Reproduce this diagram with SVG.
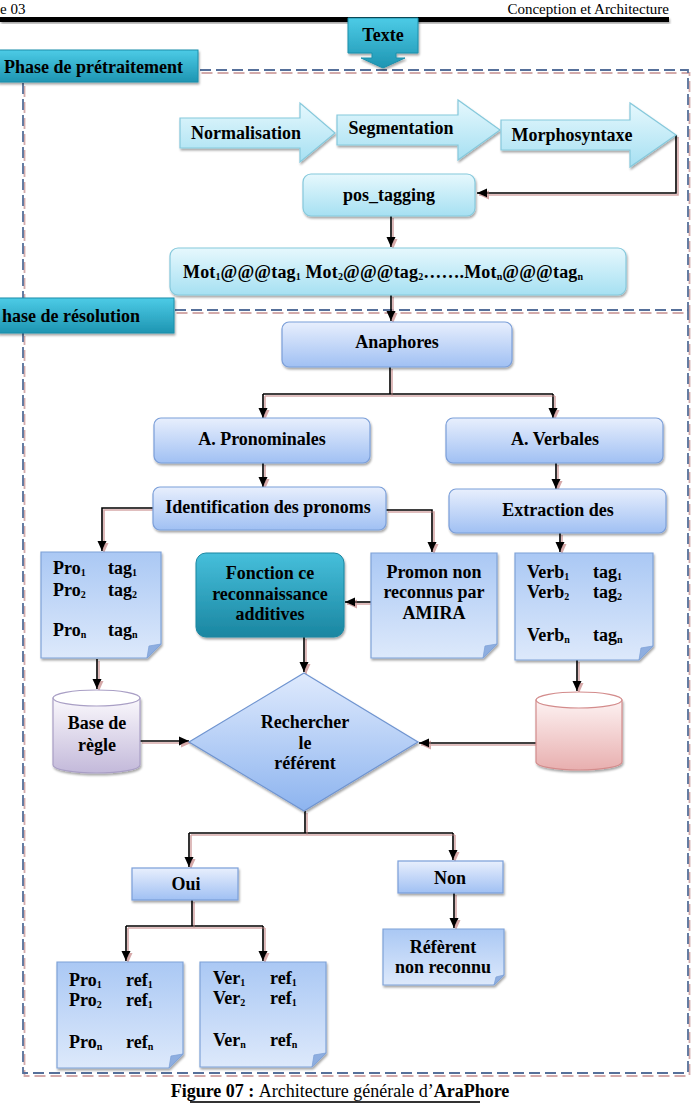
<svg xmlns="http://www.w3.org/2000/svg" xmlns:xlink="http://www.w3.org/1999/xlink" width="691" height="1103" viewBox="0 0 691 1103">
<style>
.t{font-family:"Liberation Serif","Times New Roman",serif;font-weight:bold;font-size:18px;fill:#000;text-anchor:middle}
.l{text-anchor:start}
.r{font-weight:normal}
.sub{font-size:10px}
.conn path{fill:none;stroke:#000;stroke-width:1.6}
.frame{fill:none;stroke:#56709a;stroke-width:1.8;stroke-dasharray:11 5}
.cyanbox{fill:url(#gCyan);stroke:#86c9dc;stroke-width:1.2}
.bluebox{fill:url(#gBlue);stroke:#7b9fd9;stroke-width:1.2}
.doc{fill:url(#gDoc);stroke:#7fa2d8;stroke-width:1.2}
.fold{fill:#8eaee0;stroke:#7fa2d8;stroke-width:0.8}
.teal{fill:url(#gTeal);stroke:#1d8eaa;stroke-width:1}
</style>
<defs>
<linearGradient id="gTeal" x1="0" y1="0" x2="0" y2="1"><stop offset="0" stop-color="#4ccbe6"/><stop offset="1" stop-color="#1e95b2"/></linearGradient>
<linearGradient id="gFonc" x1="0" y1="0" x2="0" y2="1"><stop offset="0" stop-color="#46bfdb"/><stop offset="1" stop-color="#1a86a1"/></linearGradient>
<linearGradient id="gCyan" x1="0" y1="0" x2="0" y2="1"><stop offset="0" stop-color="#e6f8fd"/><stop offset="1" stop-color="#a6e0f2"/></linearGradient>
<linearGradient id="gBlue" x1="0" y1="0" x2="0" y2="1"><stop offset="0" stop-color="#e8effd"/><stop offset="1" stop-color="#a0c0f3"/></linearGradient>
<linearGradient id="gDoc" x1="0" y1="0" x2="0" y2="1"><stop offset="0" stop-color="#aac8f4"/><stop offset="1" stop-color="#dde9fb"/></linearGradient>
<linearGradient id="gDia" x1="0" y1="0" x2="0" y2="1"><stop offset="0" stop-color="#dfeafd"/><stop offset="1" stop-color="#8db4ef"/></linearGradient>
<linearGradient id="gCylL" x1="0" y1="0" x2="0" y2="1"><stop offset="0" stop-color="#faf8fc"/><stop offset="1" stop-color="#c3b9da"/></linearGradient>
<linearGradient id="gCylR" x1="0" y1="0" x2="0" y2="1"><stop offset="0" stop-color="#fdf2f2"/><stop offset="1" stop-color="#e8afaf"/></linearGradient>
<filter id="sh" x="-10%" y="-10%" width="130%" height="140%"><feDropShadow dx="1" dy="2" stdDeviation="1.2" flood-color="#000" flood-opacity="0.35"/></filter>
<filter id="lsh" x="-5%" y="-5%" width="110%" height="110%"><feOffset in="SourceAlpha" dx="1.5" dy="1.5" result="o"/><feFlood flood-color="#d6a9a9"/><feComposite in2="o" operator="in" result="s"/><feMerge><feMergeNode in="s"/><feMergeNode in="SourceGraphic"/></feMerge></filter>
<marker id="ah" markerUnits="userSpaceOnUse" markerWidth="10" markerHeight="10" refX="10" refY="5" orient="auto"><path d="M0,0.5 L10,5 L0,9.5 Z" fill="#000"/></marker>
</defs>

<!-- header -->
<g id="header">
<text class="t r l" x="0" y="14" style="font-size:15px">e 03</text>
<text class="t r" x="669" y="14" style="font-size:15px;text-anchor:end">Conception et Architecture</text>
<rect x="0" y="17" width="669" height="5" fill="#000" filter="url(#sh)"/>
</g>

<!-- dashed frames -->
<g id="frames">
<g transform="translate(1.5,3)">
<path class="frame" style="stroke:#d3aaaa" d="M200,70 H688 V310 M23,83 V300 M175,310 H688 V1073 H23 V333"/>
</g>
<path class="frame" d="M200,70 H688 V310 M23,83 V300 M175,310 H688 V1073 H23 V333"/>
</g>

<g id="label-pre">
<rect class="teal" x="-2" y="50" width="200" height="32" filter="url(#sh)"/>
<text class="t l" x="4" y="73">Phase de prétraitement</text>
</g>
<g id="label-res">
<rect class="teal" x="-2" y="298" width="176" height="35" filter="url(#sh)"/>
<text class="t l" x="2" y="322">hase de résolution</text>
</g>

<g id="texte">
<path class="teal" d="M348,18 H418 V53 H396 V58 H405 L383,68 L361,58 H372 V53 H348 Z" filter="url(#sh)"/>
<text class="t" x="383" y="41">Texte</text>
</g>

<!-- connectors -->
<g id="connectors" class="conn" filter="url(#lsh)">
<path d="M676,135 V193 H477" marker-end="url(#ah)"/>
<path d="M391,216 V247" marker-end="url(#ah)"/>
<path d="M391,295 V321" marker-end="url(#ah)"/>
<path d="M390,367 V394"/>
<path d="M263,394 H553"/>
<path d="M263,394 V418" marker-end="url(#ah)"/>
<path d="M553,394 V418" marker-end="url(#ah)"/>
<path d="M263,463 V487" marker-end="url(#ah)"/>
<path d="M556,463 V489" marker-end="url(#ah)"/>
<path d="M153,508 H102 V551" marker-end="url(#ah)"/>
<path d="M386,510 H432 V552" marker-end="url(#ah)"/>
<path d="M560,533 V552" marker-end="url(#ah)"/>
<path d="M371,602 H345" marker-end="url(#ah)"/>
<path d="M97,659 V689" marker-end="url(#ah)"/>
<path d="M304,637 V672" marker-end="url(#ah)"/>
<path d="M577,660 V691" marker-end="url(#ah)"/>
<path d="M140,741 H189" marker-end="url(#ah)"/>
<path d="M536,743 H419" marker-end="url(#ah)"/>
<path d="M305,811 V833"/>
<path d="M189,833 H453"/>
<path d="M189,833 V867" marker-end="url(#ah)"/>
<path d="M453,833 V860" marker-end="url(#ah)"/>
<path d="M192,900 V926"/>
<path d="M126,926 H263"/>
<path d="M126,926 V961" marker-end="url(#ah)"/>
<path d="M263,926 V961" marker-end="url(#ah)"/>
<path d="M454,893 V928" marker-end="url(#ah)"/>
</g>

<!-- preprocessing -->
<g id="normalisation">
<path class="cyanbox" d="M180,118 H300 V103 L335,133 L300,162 V148 H180 Z" filter="url(#sh)"/>
<text class="t" x="246" y="139">Normalisation</text>
</g>
<g id="segmentation">
<path class="cyanbox" d="M337,115 H458 V100 L500,130 L458,160 V145 H337 Z" filter="url(#sh)"/>
<text class="t" x="401" y="134">Segmentation</text>
</g>
<g id="morphosyntaxe">
<path class="cyanbox" d="M501,120 H630 V103 L676,135 L630,167 V150 H501 Z" filter="url(#sh)"/>
<text class="t" x="572" y="141">Morphosyntaxe</text>
</g>
<g id="pos_tagging">
<rect class="cyanbox" x="303" y="174" width="172" height="42" rx="8" filter="url(#sh)"/>
<text class="t" x="389" y="201">pos_tagging</text>
</g>
<g id="mot">
<rect class="cyanbox" x="170" y="248" width="456" height="47" rx="8" filter="url(#sh)"/>
<text class="t l" x="183" y="278" textLength="400" lengthAdjust="spacing">Mot<tspan class="sub" dy="2">1</tspan><tspan dy="-2">@@@tag</tspan><tspan class="sub" dy="2">1</tspan><tspan dy="-2"> Mot</tspan><tspan class="sub" dy="2">2</tspan><tspan dy="-2">@@@tag</tspan><tspan class="sub" dy="2">2</tspan><tspan dy="-2">…….Mot</tspan><tspan class="sub" dy="2">n</tspan><tspan dy="-2">@@@tag</tspan><tspan class="sub" dy="2">n</tspan></text>
</g>

<!-- resolution -->
<g id="anaphores">
<rect class="bluebox" x="282" y="322" width="230" height="45" rx="7" filter="url(#sh)"/>
<text class="t" x="397" y="348">Anaphores</text>
</g>
<g id="a-pronominales">
<rect class="bluebox" x="154" y="418" width="216" height="45" rx="7" filter="url(#sh)"/>
<text class="t" x="262" y="445">A. Pronominales</text>
</g>
<g id="a-verbales">
<rect class="bluebox" x="446" y="418" width="217" height="45" rx="7" filter="url(#sh)"/>
<text class="t" x="555" y="445">A. Verbales</text>
</g>
<g id="identification">
<rect class="bluebox" x="153" y="487" width="233" height="43" rx="7" filter="url(#sh)"/>
<text class="t" x="268" y="513">Identification des pronoms</text>
</g>
<g id="extraction">
<rect class="bluebox" x="449" y="489" width="217" height="44" rx="7" filter="url(#sh)"/>
<text class="t" x="558" y="516">Extraction des</text>
</g>

<g id="pro-tags">
<path class="doc" d="M41,552 H161 V644 L147,658 H41 Z" filter="url(#sh)"/>
<path class="fold" d="M161,644 L147,658 L149,646 Z"/>
<text class="t l" x="53" y="574">Pro<tspan class="sub" dy="2">1</tspan></text>
<text class="t l" x="108" y="574">tag<tspan class="sub" dy="2">1</tspan></text>
<text class="t l" x="53" y="596">Pro<tspan class="sub" dy="2">2</tspan></text>
<text class="t l" x="108" y="596">tag<tspan class="sub" dy="2">2</tspan></text>
<text class="t l" x="53" y="636">Pro<tspan class="sub" dy="2">n</tspan></text>
<text class="t l" x="108" y="636">tag<tspan class="sub" dy="2">n</tspan></text>
</g>

<g id="fonction">
<rect x="196" y="553" width="148" height="84" rx="10" fill="url(#gFonc)" stroke="#1a86a1" stroke-width="1" filter="url(#sh)"/>
<text class="t" x="270" y="579">Fonction ce</text>
<text class="t" x="270" y="600">reconnaissance</text>
<text class="t" x="270" y="620">additives</text>
</g>

<g id="promon">
<path class="doc" d="M371,553 H497 V644 L483,658 H371 Z" filter="url(#sh)"/>
<path class="fold" d="M497,644 L483,658 L485,646 Z"/>
<text class="t" x="434" y="578">Promon non</text>
<text class="t" x="434" y="598">reconnus par</text>
<text class="t" x="434" y="619">AMIRA</text>
</g>

<g id="verb-tags">
<path class="doc" d="M515,553 H653 V646 L639,660 H515 Z" filter="url(#sh)"/>
<path class="fold" d="M653,646 L639,660 L641,648 Z"/>
<text class="t l" x="527" y="578">Verb<tspan class="sub" dy="2">1</tspan></text>
<text class="t l" x="593" y="578">tag<tspan class="sub" dy="2">1</tspan></text>
<text class="t l" x="527" y="598">Verb<tspan class="sub" dy="2">2</tspan></text>
<text class="t l" x="593" y="598">tag<tspan class="sub" dy="2">2</tspan></text>
<text class="t l" x="527" y="641">Verb<tspan class="sub" dy="2">n</tspan></text>
<text class="t l" x="593" y="641">tag<tspan class="sub" dy="2">n</tspan></text>
</g>

<g id="base-regle">
<path d="M53,698 V765 A43.5,8 0 0 0 140,765 V698 Z" fill="url(#gCylL)" stroke="#a99fc5" stroke-width="1.2" filter="url(#sh)"/>
<ellipse cx="96.5" cy="698" rx="43.5" ry="8" fill="#fff" stroke="#a99fc5" stroke-width="1.2"/>
<text class="t" x="97" y="729">Base de</text>
<text class="t" x="97" y="751">règle</text>
</g>

<g id="base-verbes">
<path d="M536,700 V762 A43,8 0 0 0 622,762 V700 Z" fill="url(#gCylR)" stroke="#d38c8c" stroke-width="1.2" filter="url(#sh)"/>
<ellipse cx="579" cy="700" rx="43" ry="8" fill="#fff" stroke="#d38c8c" stroke-width="1.2"/>
</g>

<g id="rechercher">
<path d="M304,673 L418,742 L304,811 L189,742 Z" fill="url(#gDia)" stroke="#6f94d0" stroke-width="1.2" filter="url(#sh)"/>
<text class="t" x="305" y="728">Rechercher</text>
<text class="t" x="305" y="749">le</text>
<text class="t" x="305" y="769">référent</text>
</g>

<g id="oui">
<rect class="bluebox" x="132" y="868" width="106" height="32" filter="url(#sh)"/>
<text class="t" x="186" y="890">Oui</text>
</g>
<g id="non">
<rect class="bluebox" x="398" y="861" width="105" height="32" filter="url(#sh)"/>
<text class="t" x="450" y="884">Non</text>
</g>
<g id="referent">
<path class="doc" d="M383,929 H504 V975 L494,985 H383 Z" filter="url(#sh)"/>
<path class="fold" d="M504,975 L494,985 L496,977 Z"/>
<text class="t" x="443" y="953">Réfèrent</text>
<text class="t" x="443" y="973">non reconnu</text>
</g>

<g id="pro-refs">
<path class="doc" d="M57,962 H183 V1054 L169,1068 H57 Z" filter="url(#sh)"/>
<path class="fold" d="M183,1054 L169,1068 L171,1056 Z"/>
<text class="t l" x="69" y="986">Pro<tspan class="sub" dy="2">1</tspan></text>
<text class="t l" x="126" y="986">ref<tspan class="sub" dy="2">1</tspan></text>
<text class="t l" x="69" y="1006">Pro<tspan class="sub" dy="2">2</tspan></text>
<text class="t l" x="126" y="1006">ref<tspan class="sub" dy="2">1</tspan></text>
<text class="t l" x="69" y="1048">Pro<tspan class="sub" dy="2">n</tspan></text>
<text class="t l" x="126" y="1048">ref<tspan class="sub" dy="2">n</tspan></text>
</g>

<g id="ver-refs">
<path class="doc" d="M200,962 H326 V1053 L312,1067 H200 Z" filter="url(#sh)"/>
<path class="fold" d="M326,1053 L312,1067 L314,1055 Z"/>
<text class="t l" x="213" y="984">Ver<tspan class="sub" dy="2">1</tspan></text>
<text class="t l" x="270" y="984">ref<tspan class="sub" dy="2">1</tspan></text>
<text class="t l" x="213" y="1004">Ver<tspan class="sub" dy="2">2</tspan></text>
<text class="t l" x="270" y="1004">ref<tspan class="sub" dy="2">1</tspan></text>
<text class="t l" x="213" y="1046">Ver<tspan class="sub" dy="2">n</tspan></text>
<text class="t l" x="270" y="1046">ref<tspan class="sub" dy="2">n</tspan></text>
</g>

<g id="caption">
<text class="t" x="340" y="1097">Figure 07 : <tspan style="font-weight:normal">Architecture générale d’</tspan>AraPhore</text>
<rect x="190" y="1101" width="290" height="2" fill="#333"/>
</g>
</svg>
